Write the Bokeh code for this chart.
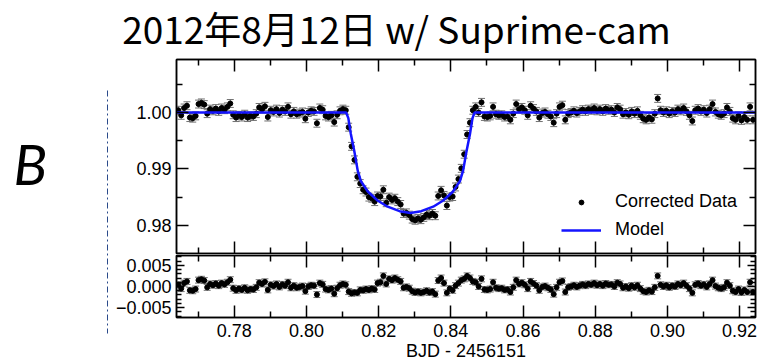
from bokeh.plotting import figure
from bokeh.models import (ColumnDataSource, Whisker, TeeHead, LinearAxis,
                          FixedTicker, PrintfTickFormatter, CustomJSTickFormatter,
                          Legend, LegendItem, Range1d)
from bokeh.core.properties import value
from bokeh.layouts import column, row
from bokeh.embed import file_html
from bokeh.resources import INLINE

# ---------------- data ----------------
time = [
    0.7645, 0.7653, 0.7661, 0.7669, 0.7677, 0.7685, 0.7693, 0.7701, 0.7709, 0.7717,
    0.7725, 0.7733, 0.7741, 0.7749, 0.7757, 0.7765, 0.7773, 0.7781, 0.7789, 0.7797,
    0.7805, 0.7813, 0.7821, 0.7829, 0.7837, 0.7845, 0.7853, 0.7861, 0.7869, 0.7877,
    0.7885, 0.7893, 0.7901, 0.7909, 0.7917, 0.7925, 0.7933, 0.7941, 0.7949, 0.7957,
    0.7965, 0.7973, 0.7981, 0.7989, 0.7997, 0.8005, 0.8013, 0.8021, 0.8029, 0.8037,
    0.8045, 0.8053, 0.8061, 0.8069, 0.8077, 0.8085, 0.8093, 0.8101, 0.8109, 0.8117,
    0.8125, 0.8133, 0.8141, 0.8149, 0.8157, 0.8165, 0.8173, 0.8181, 0.8189, 0.8197,
    0.8205, 0.8213, 0.8221, 0.8229, 0.8237, 0.8245, 0.8253, 0.8261, 0.8269, 0.8277,
    0.8285, 0.8293, 0.8301, 0.8309, 0.8317, 0.8325, 0.8333, 0.8341, 0.8349, 0.8357,
    0.8365, 0.8373, 0.8381, 0.8389, 0.8397, 0.8405, 0.8413, 0.8421, 0.8429, 0.8437,
    0.8445, 0.8453, 0.8461, 0.8469, 0.8477, 0.8485, 0.8493, 0.8501, 0.8509, 0.8517,
    0.8525, 0.8533, 0.8541, 0.8549, 0.8557, 0.8565, 0.8573, 0.8581, 0.8589, 0.8597,
    0.8605, 0.8613, 0.8621, 0.8629, 0.8637, 0.8645, 0.8653, 0.8661, 0.8669, 0.8677,
    0.8685, 0.8693, 0.8701, 0.8709, 0.8717, 0.8725, 0.8733, 0.8741, 0.8749, 0.8757,
    0.8765, 0.8773, 0.8781, 0.8789, 0.8797, 0.8805, 0.8813, 0.8821, 0.8829, 0.8837,
    0.8845, 0.8853, 0.8861, 0.8869, 0.8877, 0.8885, 0.8893, 0.8901, 0.8909, 0.8917,
    0.8925, 0.8933, 0.8941, 0.8949, 0.8957, 0.8965, 0.8973, 0.8981, 0.8989, 0.8997,
    0.9005, 0.9013, 0.9021, 0.9029, 0.9037, 0.9045, 0.9053, 0.9061, 0.9069, 0.9077,
    0.9085, 0.9093, 0.9101, 0.9109, 0.9117, 0.9125, 0.9133, 0.9141, 0.9149, 0.9157,
    0.9165, 0.9173, 0.9181, 0.9189, 0.9197, 0.9205, 0.9213, 0.9221, 0.9229, 0.9237,
]

flux = [
    1.0004, 0.9995, 1.0008, 1.0012, 0.9991, 0.9990, 0.9994, 1.0015, 1.0017, 1.0014,
    0.9998, 1.0006, 1.0003, 1.0007, 1.0002, 1.0008, 1.0005, 1.0010, 1.0016, 0.9996,
    0.9991, 0.9995, 0.9992, 0.9997, 0.9991, 0.9994, 0.9993, 0.9998, 1.0009, 1.0006,
    1.0011, 0.9992, 1.0004, 1.0001, 1.0006, 0.9999, 1.0005, 1.0002, 1.0010, 0.9997,
    1.0002, 0.9997, 0.9999, 1.0001, 0.9989, 1.0000, 1.0003, 1.0002, 0.9981, 1.0008,
    1.0005, 0.9994, 0.9992, 0.9995, 0.9983, 0.9996, 1.0003, 1.0006, 1.0004, 0.9974,
    0.9940, 0.9916, 0.9886, 0.9874, 0.9863, 0.9859, 0.9850, 0.9848, 0.9842, 0.9852,
    0.9851, 0.9863, 0.9840, 0.9850, 0.9845, 0.9848, 0.9842, 0.9837, 0.9821, 0.9822,
    0.9818, 0.9811, 0.9809, 0.9812, 0.9810, 0.9814, 0.9819, 0.9817, 0.9821, 0.9817,
    0.9852, 0.9862, 0.9853, 0.9835, 0.9850, 0.9851, 0.9868, 0.9882, 0.9901, 0.9926,
    0.9961, 0.9982, 1.0004, 1.0010, 1.0000, 1.0018, 0.9993, 0.9992, 0.9994, 1.0010,
    0.9997, 0.9995, 0.9996, 0.9992, 0.9993, 0.9987, 0.9998, 1.0015, 1.0006, 1.0009,
    1.0004, 0.9995, 1.0012, 1.0007, 1.0002, 0.9991, 0.9999, 1.0001, 0.9997, 0.9993,
    0.9982, 0.9998, 1.0010, 1.0013, 0.9987, 0.9998, 1.0000, 1.0003, 0.9999, 1.0002,
    1.0005, 1.0002, 1.0006, 1.0004, 1.0008, 1.0003, 1.0006, 1.0002, 1.0007, 1.0004,
    1.0005, 1.0000, 1.0009, 1.0006, 0.9997, 1.0000, 0.9996, 1.0002, 0.9998, 1.0003,
    0.9995, 0.9989, 0.9987, 0.9991, 0.9988, 0.9998, 1.0025, 1.0004, 1.0000, 1.0003,
    0.9998, 1.0002, 1.0000, 1.0006, 1.0003, 1.0008, 1.0002, 0.9995, 0.9985, 1.0004,
    1.0007, 1.0002, 1.0005, 0.9999, 1.0006, 1.0015, 1.0001, 0.9997, 0.9995, 0.9998,
    1.0009, 1.0002, 0.9990, 0.9987, 0.9994, 0.9986, 0.9992, 0.9987, 1.0010, 0.9987,
]

# residuals in units of 1e-3 (parts per thousand)
resid_ppt = [
    0.4, -0.5, 0.8, 1.2, -0.9, -1.0, -0.6, 1.5, 1.7, 1.4,
    -0.2, 0.6, 0.3, 0.7, 0.2, 0.8, 0.5, 1.0, 1.6, -0.4,
    -0.9, -0.5, -0.8, -0.3, -0.9, -0.6, -0.7, -0.2, 0.9, 0.6,
    1.1, -0.8, 0.4, 0.1, 0.6, -0.1, 0.5, 0.2, 1.0, -0.3,
    0.2, -0.3, -0.1, 0.1, -1.1, 0.0, 0.3, 0.2, -1.9, 0.8,
    0.5, -0.6, -0.8, -0.5, -1.7, -0.4, 0.3, 0.6, 0.4, -1.2,
    -1.6, -1.4, -1.5, -0.8, -0.9, -0.6, -0.8, -0.5, -0.7, 0.8,
    1.0, 2.5, 0.6, 1.8, 1.5, 2.0, 1.6, 1.2, -0.3, -0.1,
    -0.4, -1.1, -1.4, -1.2, -1.5, -1.3, -1.0, -1.4, -1.2, -1.8,
    1.4, 2.0, 0.8, -1.5, -0.5, -0.9, 0.2, 0.8, 1.5, 1.8,
    2.5, 2.0, 1.2, 1.0, 0.0, 1.8, -0.7, -0.8, -0.6, 1.0,
    -0.3, -0.5, -0.4, -0.8, -0.7, -1.3, -0.2, 1.5, 0.6, 0.9,
    0.4, -0.5, 1.2, 0.7, 0.2, -0.9, -0.1, 0.1, -0.3, -0.7,
    -1.8, -0.2, 1.0, 1.3, -1.3, -0.2, 0.0, 0.3, -0.1, 0.2,
    0.5, 0.2, 0.6, 0.4, 0.8, 0.3, 0.6, 0.2, 0.7, 0.4,
    0.5, 0.0, 0.9, 0.6, -0.3, 0.0, -0.4, 0.2, -0.2, 0.3,
    -0.5, -1.1, -1.3, -0.9, -1.2, -0.2, 2.5, 0.4, 0.0, 0.3,
    -0.2, 0.2, 0.0, 0.6, 0.3, 0.8, 0.2, -0.5, -1.5, 0.4,
    0.7, 0.2, 0.5, -0.1, 0.6, 1.5, 0.1, -0.3, -0.5, -0.2,
    0.9, 0.2, -1.0, -1.3, -0.6, -1.4, -0.8, -1.3, 1.0, -1.3,
]

flux_err = 0.0007

model_time = [0.7640, 0.8110, 0.8116, 0.8123, 0.8133, 0.8142, 0.8151, 0.8170, 0.8197,
              0.8225, 0.8258, 0.8288, 0.8318, 0.8351, 0.8379, 0.8406, 0.8425, 0.8434,
              0.8443, 0.8453, 0.8460, 0.8466, 0.9245]
model_flux = [1.0000, 1.0000, 0.9990, 0.9962, 0.9930, 0.9897, 0.9878, 0.9860, 0.9844,
              0.9833, 0.9825, 0.9822, 0.9825, 0.9833, 0.9844, 0.9860, 0.9878, 0.9897,
              0.9930, 0.9962, 0.9990, 1.0000, 1.0000]

x_major = [0.78, 0.80, 0.82, 0.84, 0.86, 0.88, 0.90, 0.92]
x_minor = [0.77, 0.79, 0.81, 0.83, 0.85, 0.87, 0.89, 0.91]
f_major = [0.98, 0.99, 1.00]
f_minor = [0.975, 0.985, 0.995, 1.005]
r_major = [-0.005, 0.0, 0.005]
r_minor = [-0.007, -0.006, -0.004, -0.003, -0.002, -0.001,
           0.001, 0.002, 0.003, 0.004, 0.006, 0.007]

title_text = "2012年8月12日 w/ Suprime-cam"
band_text = "B"
x_label = "BJD - 2456151"

# ---------------- build ----------------
FONT = "Liberation Sans"
resid = [v * 1e-3 for v in resid_ppt]
src = ColumnDataSource(dict(
    t=time, f=flux,
    fu=[v + flux_err for v in flux], fl=[v - flux_err for v in flux],
    r=resid,
    ru=[v + flux_err for v in resid], rl=[v - flux_err for v in resid],
))

x_rng = Range1d(0.764, 0.9244)


def add_axis(p, side, ticks, minors, labels, formatter=None, maj=12, mnr=6):
    ax = LinearAxis(ticker=FixedTicker(ticks=ticks, minor_ticks=minors))
    ax.axis_line_color = "black"
    ax.axis_line_width = 1.5
    ax.major_tick_in = maj
    ax.major_tick_out = 0
    ax.minor_tick_in = mnr
    ax.minor_tick_out = 0
    ax.major_tick_line_color = "black"
    ax.major_tick_line_width = 1.5
    ax.minor_tick_line_color = "black"
    ax.minor_tick_line_width = 1.5
    if labels:
        ax.major_label_text_font = FONT
        ax.major_label_text_font_size = "18px"
        ax.major_label_text_color = "black"
        ax.major_label_standoff = 5
        if formatter is not None:
            ax.formatter = formatter
    else:
        ax.major_label_text_font_size = "0px"
        ax.major_label_standoff = 0
        ax.formatter = CustomJSTickFormatter(code="return ''")
    p.add_layout(ax, side)
    return ax


def deco_fig(w, h, y_top, y_bottom):
    """Blank figure whose data units are page pixels (y grows downward)."""
    d = figure(width=w, height=h, x_range=Range1d(0, w), y_range=Range1d(y_bottom, y_top),
               output_backend="svg", toolbar_location=None,
               x_axis_location=None, y_axis_location=None,
               min_border_left=0, min_border_right=0, min_border_top=0, min_border_bottom=0)
    d.grid.visible = False
    d.outline_line_color = None
    d.background_fill_color = "white"
    d.border_fill_color = "white"
    return d


# header with the title (page y 0..58)
header = deco_fig(759, 58, 0, 58)
header.text(x=[396], y=[27], text=[title_text], text_font=value("Noto Sans CJK JP"),
            text_font_size="37px", text_align="center", text_baseline="alphabetic",
            text_color="black")

# left strip with the band letter and the dashed rule (page y 58..363)
left = deco_fig(112, 305, 58, 363)
left.text(x=[13], y=[163], text=[band_text], text_font=value("Lato"),
          text_font_style="italic", text_font_size="56px", text_align="left",
          text_baseline="alphabetic", text_color="black")
left.line(x=[107, 107], y=[90, 333], line_color="#2a4a8a", line_width=1,
          line_dash="6 3 2 3")

top = figure(width=647, height=196, x_range=x_rng, y_range=Range1d(0.975, 1.0094),
             output_backend="svg", toolbar_location=None,
             x_axis_location=None, y_axis_location=None,
             min_border_left=63, min_border_right=4, min_border_top=1, min_border_bottom=1)
top.grid.visible = False
top.outline_line_color = "black"
top.outline_line_width = 1.5
top.background_fill_color = "white"
top.border_fill_color = "white"

fmt2 = PrintfTickFormatter(format="%.2f")
add_axis(top, "left", f_major, f_minor, True, fmt2)
add_axis(top, "right", f_major, f_minor, False)
add_axis(top, "above", x_major, x_minor, False)
add_axis(top, "below", x_major, x_minor, False)

ERR_COLOR = "#707070"
w1 = Whisker(base="t", upper="fu", lower="fl", source=src, line_color=ERR_COLOR, line_width=1,
             upper_head=TeeHead(size=7, line_color=ERR_COLOR, line_width=1),
             lower_head=TeeHead(size=7, line_color=ERR_COLOR, line_width=1))
top.add_layout(w1)
r_data = top.scatter("t", "f", source=src, size=5, color="black")
r_model = top.line(model_time, model_flux, line_color="#1414ff", line_width=2.5)

legend = Legend(items=[LegendItem(label="Corrected Data", renderers=[r_data]),
                       LegendItem(label="Model", renderers=[r_model])],
                location=(385, 13), orientation="vertical",
                label_text_font=FONT, label_text_font_size="18px", label_text_color="black",
                glyph_width=40, glyph_height=12, label_height=20, label_standoff=14,
                spacing=7, padding=0, margin=0,
                border_line_color=None, background_fill_alpha=0)
top.add_layout(legend)

bot = figure(width=647, height=109, x_range=x_rng, y_range=Range1d(-0.0073, 0.0073),
             output_backend="svg", toolbar_location=None,
             x_axis_location=None, y_axis_location=None,
             min_border_left=63, min_border_right=4, min_border_top=1, min_border_bottom=45)
bot.grid.visible = False
bot.outline_line_color = "black"
bot.outline_line_width = 1.5
bot.background_fill_color = "white"
bot.border_fill_color = "white"

rfmt = CustomJSTickFormatter(code="return (tick < -1e-9 ? '\u2212' : '') + Math.abs(tick).toFixed(3);")
add_axis(bot, "left", r_major, r_minor, True, rfmt, maj=8, mnr=5)
add_axis(bot, "right", r_major, r_minor, False, maj=8, mnr=5)
add_axis(bot, "above", x_major, x_minor, False)
xb = add_axis(bot, "below", x_major, x_minor, True, fmt2)
xb.axis_label = x_label
xb.axis_label_text_font = FONT
xb.axis_label_text_font_size = "18px"
xb.axis_label_text_font_style = "normal"
xb.axis_label_text_color = "black"
xb.axis_label_standoff = 1
xb.major_label_standoff = 6

w2 = Whisker(base="t", upper="ru", lower="rl", source=src, line_color=ERR_COLOR, line_width=1,
             upper_head=TeeHead(size=7, line_color=ERR_COLOR, line_width=1),
             lower_head=TeeHead(size=7, line_color=ERR_COLOR, line_width=1))
bot.add_layout(w2)
bot.scatter("t", "r", source=src, size=5, color="black")

layout = column(header, row(left, column(top, bot, spacing=0), spacing=0), spacing=0)
open("out.html", "w").write(file_html(layout, INLINE))
